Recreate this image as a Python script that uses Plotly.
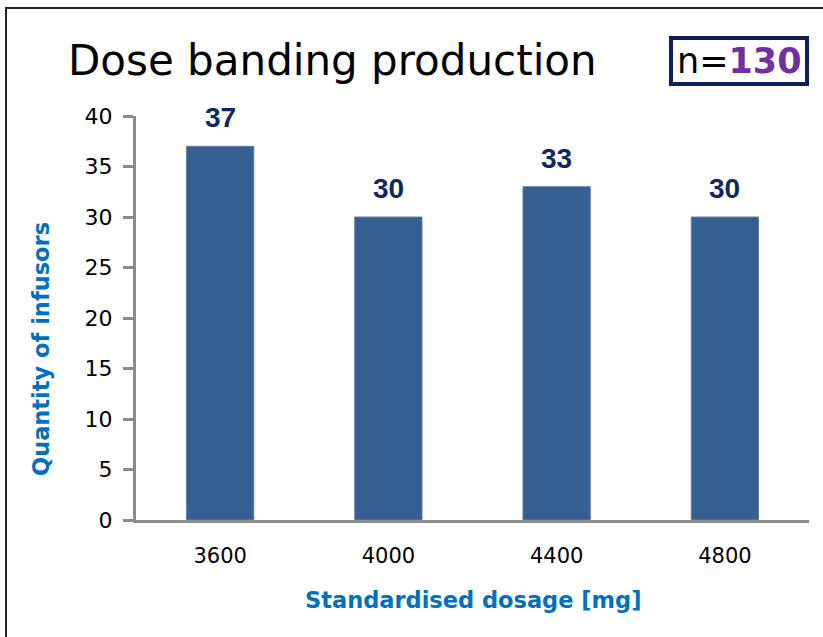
import plotly.graph_objects as go

categories = ["3600", "4000", "4400", "4800"]
values = [37, 30, 33, 30]
y_ticks = [0, 5, 10, 15, 20, 25, 30, 35, 40]
title_text = "Dose banding production"
n_total = 130
x_title = "Standardised dosage [mg]"
y_title = "Quantity of infusors"

W, H = 823, 637
L, R, T, B = 136, 14, 116, 117
PW, PH = W - L - R, H - T - B


def px(x):
    return (x - L) / PW


def py(y):
    return (H - B - y) / PH


fig = go.Figure()
fig.add_trace(go.Bar(
    x=categories, y=values,
    marker=dict(color="#365F91", line=dict(color="#5F82AD", width=1)),
    hoverinfo="skip",
))

annotations = []
for i, v in enumerate(values):
    annotations.append(dict(
        x=i, y=v, xref="x", yref="y", text="<b>%d</b>" % v, showarrow=False,
        yanchor="bottom", yshift=11,
        font=dict(family="Liberation Sans, Arial", size=28, color="#10275F"),
    ))

annotations.append(dict(
    x=px(66), y=py(60), xref="paper", yref="paper", text=title_text,
    showarrow=False, xanchor="left", yanchor="middle",
    font=dict(family="DejaVu Sans", size=42, color="#000000"),
))
annotations.append(dict(
    x=px(739), y=py(61), xref="paper", yref="paper",
    text='n=<span style="color:#7030A0"><b>%d</b></span>' % n_total,
    showarrow=False, xanchor="center", yanchor="middle",
    font=dict(family="DejaVu Sans", size=35, color="#000000"),
))
annotations.append(dict(
    x=0.5, y=py(600), xref="paper", yref="paper", text="<b>%s</b>" % x_title,
    showarrow=False, xanchor="center", yanchor="middle",
    font=dict(family="DejaVu Sans", size=22.5, color="#0070C0"),
))
annotations.append(dict(
    x=px(41), y=py(349), xref="paper", yref="paper", text="<b>%s</b>" % y_title,
    showarrow=False, xanchor="center", yanchor="middle", textangle=-90,
    font=dict(family="DejaVu Sans", size=22.5, color="#0070C0"),
))

shapes = [
    dict(type="rect", xref="paper", yref="paper",
         x0=px(6), x1=px(840), y0=py(8), y1=py(660),
         line=dict(color="#222222", width=2), fillcolor="rgba(0,0,0,0)", layer="below"),
    dict(type="rect", xref="paper", yref="paper",
         x0=px(671), x1=px(807), y0=py(38), y1=py(84),
         line=dict(color="#0F1F5C", width=4), fillcolor="white"),
]

fig.update_layout(
    width=W, height=H,
    margin=dict(l=L, r=R, t=T, b=B),
    paper_bgcolor="white", plot_bgcolor="white",
    showlegend=False, bargap=0.6,
    annotations=annotations, shapes=shapes,
    font=dict(family="DejaVu Sans", size=20, color="#000000"),
    xaxis=dict(
        type="category", range=[-0.5, len(categories) - 0.5],
        showline=True, linecolor="#8C8C8C", linewidth=3,
        ticks="", showgrid=False, zeroline=False,
        tickfont=dict(family="DejaVu Sans", size=21, color="#000000"),
        ticklabelstandoff=15,
    ),
    yaxis=dict(
        range=[0, 40], tickvals=y_ticks, showline=True, linecolor="#8C8C8C",
        linewidth=3, ticks="outside", ticklen=10, tickwidth=3, tickcolor="#8C8C8C",
        showgrid=False, zeroline=False,
        tickfont=dict(family="DejaVu Sans", size=22, color="#000000"),
        ticklabelstandoff=6,
    ),
)

fig.write_html("out.html", config=dict(displayModeBar=False),
               post_script="document.body.style.margin='0px';")
